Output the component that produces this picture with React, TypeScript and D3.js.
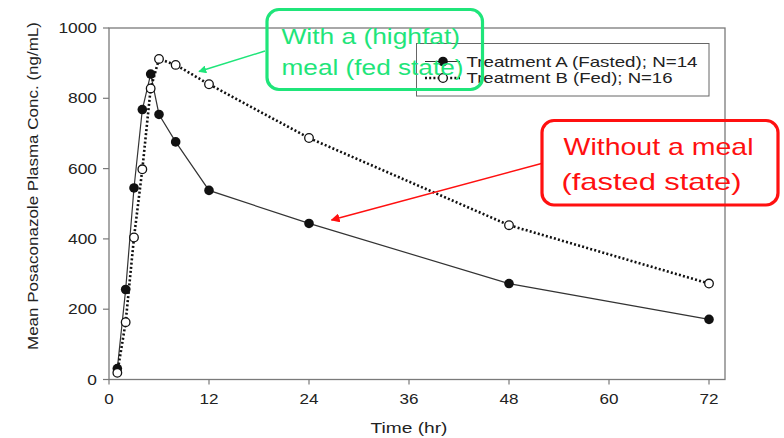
import React from "react";
import * as d3 from "d3";

// Sampling times (hr) and mean plasma concentrations (ng/mL)
const times = [1, 2, 3, 4, 5, 6, 8, 12, 24, 48, 72];
const fastedConc = [31, 256, 545, 768, 869, 754, 676, 538, 444, 273, 171];
const fedConc = [19, 163, 404, 598, 828, 912, 895, 840, 687, 439, 273];

const xTicks = [0, 12, 24, 36, 48, 60, 72];
const yTicks = [0, 200, 400, 600, 800, 1000];

const legendLabels = ["Treatment A (Fasted); N=14", "Treatment B (Fed); N=16"];
const fedNote = ["With a (highfat)", "meal (fed state)"];
const fastedNote = ["Without a meal", "(fasted state)"];

const FONT = "'Liberation Sans', Arial, Helvetica, sans-serif";
const W = 784;
const H = 438;

export default function App() {
  const x = d3.scaleLinear().domain([0, 72]).range([109, 709]);
  const y = d3.scaleLinear().domain([0, 1000]).range([379.5, 28]);
  const frameRight = 725;

  const fasted = times.map((t, i) => ({ t, v: fastedConc[i] }));
  const fed = times.map((t, i) => ({ t, v: fedConc[i] }));

  const line = d3
    .line<{ t: number; v: number }>()
    .x((d) => x(d.t))
    .y((d) => y(d.v));

  const axisColor = "#7a7a7a";
  const green = "#1fe57a";
  const red = "#ff1010";

  return (
    <svg
      width={W}
      height={H}
      style={{ position: "absolute", left: 0, top: 0, background: "#fff" }}
      fontFamily={FONT}
    >
      <defs>
        <marker id="headGreen" viewBox="0 0 10 10" refX="9" refY="5" markerWidth="8" markerHeight="8" orient="auto-start-reverse" markerUnits="userSpaceOnUse">
          <path d="M0,0 L10,5 L0,10 z" fill={green} />
        </marker>
        <marker id="headRed" viewBox="0 0 10 10" refX="9" refY="5" markerWidth="9" markerHeight="9" orient="auto-start-reverse" markerUnits="userSpaceOnUse">
          <path d="M0,0 L10,5 L0,10 z" fill={red} />
        </marker>
      </defs>

      {/* plot frame */}
      <rect
        x={x(0)}
        y={y(1000)}
        width={frameRight - x(0)}
        height={y(0) - y(1000)}
        fill="none"
        stroke={axisColor}
        strokeWidth={1.3}
      />

      {/* y axis */}
      {yTicks.map((v) => (
        <g key={"y" + v}>
          <line x1={x(0) - 6} x2={x(0)} y1={y(v)} y2={y(v)} stroke={axisColor} strokeWidth={1.2} />
          <text
            transform={`translate(97,${y(v) + 5}) scale(1.24,1)`}
            textAnchor="end"
            fontSize={14}
            fill="#222"
          >
            {v}
          </text>
        </g>
      ))}

      {/* x axis */}
      {xTicks.map((t) => (
        <g key={"x" + t}>
          <line x1={x(t)} x2={x(t)} y1={y(0)} y2={y(0) + 5} stroke={axisColor} strokeWidth={1.2} />
          <text
            transform={`translate(${x(t)},404) scale(1.22,1)`}
            textAnchor="middle"
            fontSize={14}
            fill="#222"
          >
            {t}
          </text>
        </g>
      ))}

      <text x={370.5} y={433} fontSize={15} fill="#222" textLength={77} lengthAdjust="spacingAndGlyphs">
        Time (hr)
      </text>
      <text
        transform="translate(38,350) rotate(-90)"
        fontSize={14}
        fill="#222"
        textLength={328}
        lengthAdjust="spacingAndGlyphs"
      >
        Mean Posaconazole Plasma Conc. (ng/mL)
      </text>

      {/* fasted series */}
      <path d={line(fasted) ?? ""} fill="none" stroke="#333" strokeWidth={1.2} />
      {fasted.map((d) => (
        <circle key={"a" + d.t} cx={x(d.t)} cy={y(d.v)} r={4.8} fill="#111" />
      ))}

      {/* fed series */}
      <path d={line(fed) ?? ""} fill="none" stroke="#111" strokeWidth={2.6} strokeDasharray="2,2.2" />
      {fed.map((d) => (
        <circle key={"b" + d.t} cx={x(d.t)} cy={y(d.v)} r={4.3} fill="#fff" stroke="#111" strokeWidth={1.3} />
      ))}

      {/* legend */}
      <rect x={416.5} y={43.5} width={292.5} height={52.5} fill="#fff" stroke="#666" strokeWidth={1} />
      <line x1={425} x2={460} y1={61.5} y2={61.5} stroke="#333" strokeWidth={1.2} />
      <circle cx={443} cy={61.5} r={4.8} fill="#111" />
      <line x1={425} x2={460} y1={78} y2={78} stroke="#111" strokeWidth={2.6} strokeDasharray="2,2.2" />
      <circle cx={443} cy={78} r={4.3} fill="#fff" stroke="#111" strokeWidth={1.3} />
      <text x={466.5} y={66.5} fontSize={15} fill="#222" textLength={231} lengthAdjust="spacingAndGlyphs">
        {legendLabels[0]}
      </text>
      <text x={466.5} y={83} fontSize={15} fill="#222" textLength={206} lengthAdjust="spacingAndGlyphs">
        {legendLabels[1]}
      </text>

      {/* fed-state callout */}
      <rect x={267} y={9.5} width={215.5} height={80} rx={12} fill="none" stroke={green} strokeWidth={3.2} />
      <text x={281.5} y={44} fontSize={22} fill={green} textLength={178.5} lengthAdjust="spacingAndGlyphs">
        {fedNote[0]}
      </text>
      <text x={281.5} y={75} fontSize={22} fill={green} textLength={182} lengthAdjust="spacingAndGlyphs">
        {fedNote[1]}
      </text>
      <line x1={265} y1={51} x2={199} y2={71.5} stroke={green} strokeWidth={1.5} markerEnd="url(#headGreen)" />

      {/* fasted-state callout */}
      <rect x={542} y={120.5} width={236} height={84.5} rx={12} fill="none" stroke={red} strokeWidth={3.2} />
      <text x={563.5} y={155} fontSize={24} fill={red} textLength={190} lengthAdjust="spacingAndGlyphs">
        {fastedNote[0]}
      </text>
      <text x={561.5} y={189.5} fontSize={24} fill={red} textLength={180} lengthAdjust="spacingAndGlyphs">
        {fastedNote[1]}
      </text>
      <line x1={541.5} y1={163.5} x2={331.5} y2={220} stroke={red} strokeWidth={1.5} markerEnd="url(#headRed)" />
    </svg>
  );
}
